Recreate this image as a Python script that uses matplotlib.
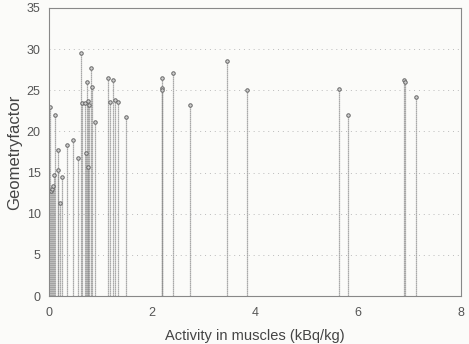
import matplotlib
matplotlib.use("Agg")
import matplotlib.pyplot as plt

# Activity in muscles (kBq/kg) and geometry factor
activity = [0.01, 0.03, 0.05, 0.07, 0.10, 0.11, 0.18, 0.18, 0.21, 0.25, 0.34,
            0.46, 0.57, 0.62, 0.65, 0.69, 0.72, 0.73, 0.75, 0.75, 0.77, 0.81,
            0.83, 0.90, 1.15, 1.18, 1.25, 1.28, 1.34, 1.50, 2.19, 2.19, 2.19,
            2.40, 2.74, 3.45, 3.84, 5.64, 5.81, 6.90, 6.91, 7.13]
geometry = [23.0, 12.8, 13.0, 13.4, 14.7, 22.0, 17.7, 15.3, 11.3, 14.4, 18.4,
            19.0, 16.8, 29.5, 23.4, 23.4, 17.4, 26.0, 23.7, 15.7, 23.2, 27.7,
            25.4, 21.1, 26.5, 23.6, 26.2, 23.8, 23.6, 21.8, 26.5, 25.3, 25.0,
            27.1, 23.2, 28.5, 25.0, 25.1, 22.0, 26.3, 26.0, 24.2]

xticks = [0, 2, 4, 6, 8]
yticks = [0, 5, 10, 15, 20, 25, 30, 35]

plt.rcParams['font.family'] = ['Liberation Sans', 'DejaVu Sans']

fig = plt.figure(figsize=(4.69, 3.44), dpi=100)
fig.patch.set_facecolor('#fbfbf9')
ax = fig.add_axes([0.1045, 0.1395, 0.8785, 0.8375])
ax.set_facecolor('#fbfbf9')

ax.vlines(activity, 0, geometry, colors='#8f8f8f', linewidth=0.9, linestyles=(0, (1, 0.6)))
ax.plot(activity, geometry, 'o', markersize=2.5, markerfacecolor='#d0d0d0',
        markeredgecolor='#666666', markeredgewidth=0.7, linestyle='none')

ax.set_xlim(0, 8)
ax.set_ylim(0, 35)
ax.set_xticks(xticks)
ax.set_yticks(yticks)
for y in yticks[1:-1]:
    ax.axhline(y, color='#bbbbbb', linewidth=0.7, linestyle=(0, (1, 4)), zorder=0)

ax.tick_params(axis='x', direction='in', length=0, labelsize=9, colors='#555555', pad=8)
ax.tick_params(axis='y', direction='in', length=0, labelsize=9, colors='#555555', pad=6)
for s in ax.spines.values():
    s.set_color('#888888')
    s.set_linewidth(0.8)

ax.set_xlabel('Activity in muscles (kBq/kg)', fontsize=10.5, color='#444444', labelpad=7)
ax.set_ylabel('Geometryfactor', fontsize=12, color='#444444', labelpad=3)

fig.savefig('out.png', dpi=100, facecolor=fig.get_facecolor())
